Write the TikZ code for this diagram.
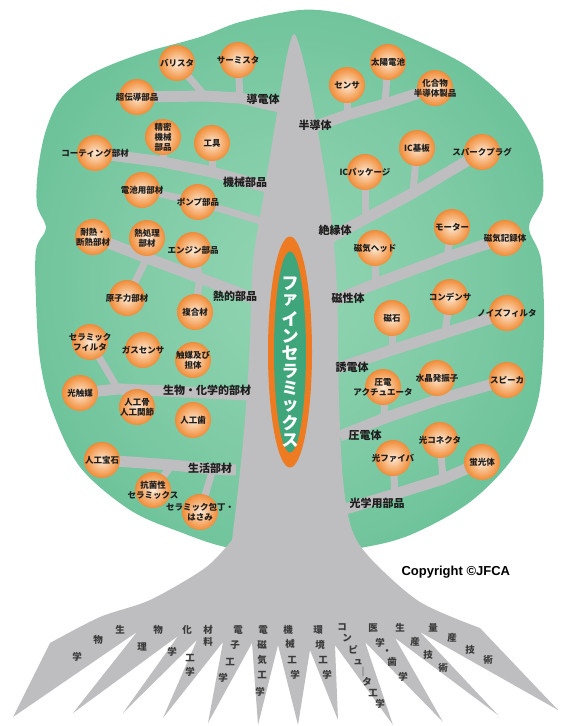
\documentclass[tikz,border=0pt]{standalone}
\usepackage{fontspec}
\setmainfont{Noto Sans CJK JP}
\newfontfamily\latinsans{Liberation Sans}
\usetikzlibrary{shapes.geometric}
\pgfdeclarelayer{canopy}
\pgfdeclarelayer{wood}
\pgfsetlayers{canopy,wood,main}
\definecolor{LeafGreen}{HTML}{62BD92}
\definecolor{LeafLight}{HTML}{93D5B3}
\definecolor{BarkGray}{HTML}{BEBEC0}
\definecolor{CoreOrange}{HTML}{EE7A22}
\definecolor{CoreGreen}{HTML}{3FA67B}
\definecolor{BallRim}{HTML}{E9771F}
\definecolor{BallMid}{HTML}{F39A4E}
\definecolor{BallCore}{HTML}{FDEBD8}
\definecolor{InkDark}{HTML}{1E1E1E}
\definecolor{RootInk}{HTML}{3A3A3A}
\pgfdeclareradialshading{ballshade}{\pgfpoint{0bp}{0bp}}{color(0bp)=(BallCore); color(9bp)=(BallCore!55!BallMid); color(21bp)=(BallMid); color(31bp)=(BallRim); color(36bp)=(BallRim!85!black); color(50bp)=(BallRim!85!black)}
\pgfdeclareradialshading{leafshade}{\pgfpoint{0bp}{0bp}}{color(0bp)=(LeafLight); color(16bp)=(LeafLight!60!LeafGreen); color(34bp)=(LeafGreen); color(50bp)=(LeafGreen)}

\begin{document}
\begin{tikzpicture}[x=1pt,y=-1pt,
    ball/.style={circle,minimum size=36pt,inner sep=0pt,shade,shading=ballshade},
    balltext/.style={align=center,font=\fontsize{8.5}{10}\selectfont\bfseries,text=InkDark,inner sep=0pt},
    grouplabel/.style={font=\fontsize{11}{13}\selectfont\bfseries,text=InkDark,inner sep=1pt},
    rootchar/.style={font=\fontsize{9.5}{10}\selectfont\bfseries,text=RootInk,inner sep=0pt},
    corechar/.style={font=\fontsize{17}{18}\selectfont\bfseries,text=white,inner sep=0pt},
    bough/.style={BarkGray,line width=11pt},
    twig/.style={BarkGray,line width=7pt}]
  \useasboundingbox (0,0) rectangle (560,726);

  % leaves
  \foreach \n/\x/\y/\t in {
      varistor/177/63/{バリスタ}, thermistor/238/60/{サーミスタ}, supercond/137/97/{超伝導部品},
      precmach/163/137/{精密\\機械\\部品}, tool/212/143/{工具}, coating/95/153/{コーティング部材},
      battery/142/190/{電池用部材}, pump/198/202/{ポンプ部品},
      heatres/93/237/{耐熱・\\断熱部材}, heattreat/147/238/{熱処理\\部材}, engine/193/250/{エンジン部品},
      nuclear/127/298/{原子力部材}, composite/195/312/{複合材},
      cerfilter/90/342/{セラミック\\フィルタ}, gassensor/143/350/{ガスセンサ}, catalyst/193/360/{触媒及び\\担体},
      photocat/80/393/{光触媒}, bone/137/407/{人工骨\\人工関節}, tooth/193/420/{人工歯},
      gem/102/460/{人工宝石}, antibac/153/490/{抗菌性\\セラミックス}, knife/200/512/{セラミック包丁・\\はさみ},
      sensor/347/85/{センサ}, solar/388/62/{太陽電池}, compound/435/88/{化合物\\半導体製品},
      icpkg/365/172/{ICパッケージ}, icsub/417/148/{IC基板}, plug/482/152/{スパークプラグ},
      mhead/375/248/{磁気ヘッド}, motor/452/227/{モーター}, mrec/505/238/{磁気記録体},
      magnet/392/318/{磁石}, capacitor/450/297/{コンデンサ}, noise/507/313/{ノイズフィルタ},
      actuator/383/387/{圧電\\アクチュエータ}, crystal/437/378/{水晶発振子}, speaker/507/380/{スピーカ},
      fiber/393/458/{光ファイバ}, connector/440/440/{光コネクタ}, phosphor/482/462/{蛍光体}}
    {\node[ball] (\n) at (\x,\y) {};
     \node[balltext] (\n-t) at (\n) {\t};}

  % group names on the boughs
  \node[grouplabel] (g-cond) at (263,99) {導電体};
  \node[grouplabel] (g-semi) at (315,125) {半導体};
  \node[grouplabel] (g-mech) at (245,182) {機械部品};
  \node[grouplabel] (g-ins) at (335,230) {絶縁体};
  \node[grouplabel] (g-heat) at (235,296) {熱的部品};
  \node[grouplabel] (g-mag) at (348,298) {磁性体};
  \node[grouplabel] (g-diel) at (352,367) {誘電体};
  \node[grouplabel] (g-bio) at (207,390) {生物・化学的部材};
  \node[grouplabel] (g-piezo) at (365,435) {圧電体};
  \node[grouplabel] (g-life) at (210,468) {生活部材};
  \node[grouplabel] (g-opt) at (377,503) {光学用部品};

  % name on the trunk
  \node[ellipse,fill=CoreOrange,minimum width=44pt,minimum height=231pt,inner sep=0pt] (core) at (290,352) {};
  \node[ellipse,fill=CoreGreen,minimum width=32pt,minimum height=201pt,inner sep=0pt] (corein) at (core) {};
  \foreach \c [count=\k] in {フ,ァ,イ,ン,セ,ラ,ミ,ッ,ク,ス}
    \node[corechar] (f\k) at (290,266+17.5*\k) {\c};

  % fields written along the roots
  \foreach \x/\y/\c [count=\i] in {
      120/630/生, 98/640/物, 77/657/学,
      158/630/物, 142/647/理,
      187/630/化, 172/652/学,
      208/630/材, 208/642/料, 190/658/工, 190/672/学,
      238/630/電, 235/645/子, 230/662/工, 223/678/学,
      263/630/電, 262/645/磁, 262/660/気, 262/675/工, 260/692/学,
      288/630/機, 290/644/械, 292/660/工, 295/675/学,
      318/630/環, 320/645/境, 323/660/工, 327/675/学,
      342/627/コ, 347/638/ン, 353/650/ピ, 358/662/ュ, 363/672/｜, 367/682/タ, 373/693/工, 380/704/学,
      373/628/医, 380/643/学, 387/652/・, 392/662/歯, 403/677/学,
      400/628/生, 415/642/産, 428/655/技, 443/668/術,
      433/628/量, 452/638/産, 470/650/技, 488/660/術}
    \node[rootchar] (r\i) at (\x,\y) {\c};

  \node[font=\latinsans\fontsize{13}{15}\selectfont\bfseries,anchor=west] (copy) at (398,572) {Copyright ©JFCA};

  \begin{pgfonlayer}{wood}
    % boughs, left side
    \coordinate (dd0) at (284,108); \coordinate (dd1) at (240,98); \coordinate (dd2) at (205,96);
    \draw[bough] (dd0) -- (dd1) -- (dd2) -- (supercond.center);
    \draw[twig] (dd1) -- (thermistor.center); \draw[twig] (dd2) -- (varistor.center);
    \coordinate (kk0) at (270,188); \coordinate (kk1) at (212,172); \coordinate (kk2) at (163,162);
    \draw[bough] (kk0) -- (kk1) -- (kk2) -- (coating.center);
    \draw[twig] (kk1) -- (tool.center); \draw[twig] (kk2) -- (precmach.center);
    \coordinate (kp0) at (264,222);
    \draw[twig] (kp0) -- (pump.center) -- (battery.center);
    \coordinate (nt0) at (252,298); \coordinate (nt1) at (200,278); \coordinate (nt2) at (147,258);
    \draw[bough] (nt0) -- (nt1) -- (nt2) -- (heatres.center);
    \draw[twig] (nt1) -- (engine.center); \draw[twig] (nt2) -- (heattreat.center);
    \draw[twig] (nt2) -- (nuclear.center); \draw[twig] (nt1) -- (composite.center);
    \coordinate (sb0) at (248,395); \coordinate (sb1) at (165,391); \coordinate (sb2) at (118,389);
    \draw[bough] (sb0) -- (sb1) -- (sb2) -- (photocat.center);
    \draw[twig] (sb2) -- (cerfilter.center);
    \coordinate (sk0) at (236,470); \coordinate (sk1) at (213,469); \coordinate (sk2) at (172,465);
    \draw[bough] (sk0) -- (sk1) -- (sk2) -- (gem.center);
    \draw[twig] (sk1) -- (knife.center); \draw[twig] (sk2) -- (antibac.center);
    % boughs, right side
    \coordinate (hd0) at (310,128); \coordinate (hd1) at (347,115); \coordinate (hd2) at (385,104);
    \draw[bough] (hd0) -- (hd1) -- (hd2) -- (compound.center);
    \draw[twig] (hd1) -- (sensor.center); \draw[twig] (hd2) -- (solar.center);
    \coordinate (ze0) at (326,240); \coordinate (ze1) at (365,219); \coordinate (ze2) at (413,193);
    \draw[bough] (ze0) -- (ze1) -- (ze2) -- (plug.center);
    \draw[twig] (ze1) -- (icpkg.center); \draw[twig] (ze2) -- (icsub.center);
    \coordinate (js0) at (336,300); \coordinate (js1) at (375,284); \coordinate (js2) at (447,257);
    \draw[bough] (js0) -- (js1) -- (js2) -- (mrec.center);
    \draw[twig] (js1) -- (mhead.center); \draw[twig] (js2) -- (motor.center);
    \coordinate (yd0) at (338,368); \coordinate (yd1) at (392,350); \coordinate (yd2) at (445,333);
    \draw[bough] (yd0) -- (yd1) -- (yd2) -- (noise.center);
    \draw[twig] (yd1) -- (magnet.center); \draw[twig] (yd2) -- (capacitor.center);
    \coordinate (ad0) at (340,436); \coordinate (ad1) at (385,418); \coordinate (ad2) at (437,400);
    \draw[bough] (ad0) -- (ad1) -- (ad2) -- (speaker.center);
    \draw[twig] (ad1) -- (actuator.center); \draw[twig] (ad2) -- (crystal.center);
    \coordinate (ko0) at (342,510); \coordinate (ko1) at (395,494); \coordinate (ko2) at (443,479);
    \draw[bough] (ko0) -- (ko1) -- (ko2) -- (phosphor.center);
    \draw[twig] (ko1) -- (fiber.center); \draw[twig] (ko2) -- (connector.center);
    % trunk and roots
    \fill[BarkGray] plot[smooth,tension=0.5] coordinates {(232,540) (238,490) (245,420) (250,340)
        (253,262) (262,205) (271,150) (280,95) (287,55) (294,34) (302,55) (311,95) (321,150)
        (331,215) (337,290) (339,400) (343,480) (352,530) (372,560) (420,602) (480,628)}
      -- (558,710) -- (420,632) -- (498,715) -- (395,638) -- (443,722) -- (365,642) -- (393,725)
      -- (335,645) -- (338,720) -- (310,650) -- (298,725) -- (278,645) -- (258,725) -- (252,643)
      -- (208,723) -- (223,642) -- (163,718) -- (197,640) -- (123,713) -- (178,636) -- (73,713)
      -- (137,632) -- (13,717)
      -- plot[smooth,tension=0.5] coordinates {(50,643) (100,617) (150,600) (205,568) (232,540)} -- cycle;
  \end{pgfonlayer}

  \begin{pgfonlayer}{canopy}
    \shade[shading=leafshade] plot[smooth cycle,tension=0.55] coordinates {(300,10) (340,13) (370,22) (420,42)
        (470,68) (513,107) (538,150) (543,195) (529,227) (541,260) (544,330) (538,400) (515,455)
        (470,502) (410,535) (360,548) (300,555) (230,548) (180,532) (130,510) (80,467) (52,410)
        (40,360) (36,300) (36,250) (46,228) (37,205) (38,170) (46,130) (62,97) (93,73) (143,53)
        (200,37) (240,22)};
  \end{pgfonlayer}
\end{tikzpicture}
\end{document}
